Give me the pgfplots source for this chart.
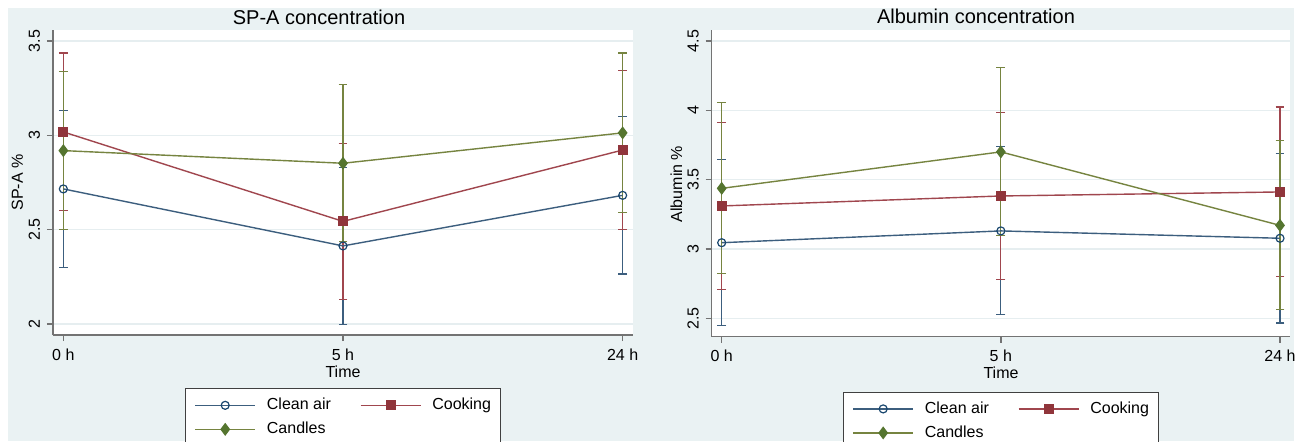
\documentclass[border=0pt]{standalone}
\usepackage{fontspec}
\setmainfont{Liberation Sans}
\usepackage{pgfplots}
\pgfplotsset{compat=1.18}
\usepackage{pgfplotstable}

\definecolor{bgc}{RGB}{234,242,243}
\definecolor{gridc}{RGB}{230,238,240}
\definecolor{mblue}{RGB}{26,71,111}
\definecolor{mred}{RGB}{144,53,59}
\definecolor{mgreen}{RGB}{85,117,47}
\definecolor{lblue}{RGB}{60,94,126}
\definecolor{lred}{RGB}{160,70,78}
\definecolor{lgreen}{RGB}{118,132,64}

% x = time index (0 h, 5 h, 24 h), y = mean, e = error half-width
\pgfplotstableread{
x y e
0 2.716 0.416
1 2.414 0.414
2 2.682 0.417
}\LClean
\pgfplotstableread{
x y e
0 3.018 0.418
1 2.544 0.415
2 2.922 0.420
}\LCook
\pgfplotstableread{
x y e
0 2.919 0.420
1 2.852 0.415
2 3.013 0.423
}\LCand
\pgfplotstableread{
x y e
0 3.045 0.600
1 3.130 0.606
2 3.077 0.611
}\RClean
\pgfplotstableread{
x y e
0 3.310 0.603
1 3.382 0.604
2 3.411 0.613
}\RCook
\pgfplotstableread{
x y e
0 3.437 0.616
1 3.700 0.606
2 3.170 0.610
}\RCand

\pgfplotsset{
  panel/.style={
    scale only axis,
    axis lines*=left,
    axis line style={-, draw=black!55, line width=0.7pt},
    axis background/.style={fill=white},
    xtick={0,1,2}, xticklabels={0 h,5 h,24 h},
    tick align=outside, major tick length=3pt,
    tick style={draw=black!55, line width=0.7pt},
    ymajorgrids, grid style={draw=gridc, line width=0.7pt},
    /pgf/number format/assume math mode=true,
    tick label style={font=\fontsize{8}{9.6}\selectfont},
    xticklabel style={anchor=north, inner sep=0pt, yshift=-3.5pt},
    yticklabel style={xshift=-3.5pt, rotate=90, anchor=base, inner sep=0pt},
    legend columns=2,
    legend cell align=left,
    legend image code/.code={\draw[mark repeat=2,mark phase=2,#1] plot coordinates {(0pt,0pt) (15pt,0pt) (30pt,0pt)};},
    legend style={draw=black!75, line width=0.5pt, fill=white,
      font=\fontsize{8}{9.6}\selectfont,
      inner xsep=4.5pt, inner ysep=4.5pt, row sep=4.5pt,
      nodes={inner sep=0pt, text height=6pt, text depth=1.5pt, anchor=west},
      /tikz/every odd column/.append style={column sep=5.5pt},
      /tikz/every even column/.append style={column sep=14.5pt}},
  },
  ebar/.style={draw=none, mark=none, forget plot,
    error bars/.cd, y dir=both, y explicit,
    error bar style={draw=#1, solid, line width=0.55pt},
    error mark options={draw=#1, rotate=90, mark size=2.2pt, line width=0.55pt}},
  sclean/.style={lblue, line width=0.7pt, mark=o, mark size=2pt, mark options={draw=mblue, fill=white, line width=0.6pt}},
  scook/.style={lred, line width=0.7pt, mark=square*, mark size=2.2pt, mark options={draw=mred, fill=mred}},
  scand/.style={lgreen, line width=0.7pt, mark=diamond*, mark size=2.7pt, mark options={draw=mgreen, fill=mgreen}},
}

\begin{document}
\begin{tikzpicture}
\path[use as bounding box] (0,0) rectangle (653pt,220.5pt);
\clip (0,0) rectangle (653pt,220.5pt);
\fill[white] (0,0) rectangle (653pt,220.5pt);
\fill[bgc] (4pt,0pt) rectangle (647pt,216.5pt);

% ---------- Left panel ----------
\begin{axis}[panel,
  at={(26.5pt,53pt)}, anchor=south west,
  width=290pt, height=152.5pt,
  xmin=-0.037, xmax=2.037,
  ymin=1.942, ymax=3.558,
  ytick={2,2.5,3,3.5},
  legend style={at={(0.2276,-0.1748)}, anchor=north west},
]
\addplot[ebar=lblue] table[x=x, y=y, y error=e] {\LClean};
\addplot[ebar=lred] table[x=x, y=y, y error=e] {\LCook};
\addplot[ebar=lgreen] table[x=x, y=y, y error=e] {\LCand};
\addplot[sclean] table[x=x, y=y] {\LClean};
\addplot[scook] table[x=x, y=y] {\LCook};
\addplot[scand] table[x=x, y=y] {\LCand};
\legend{Clean air, Cooking, Candles}
\end{axis}

% ---------- Right panel ----------
\begin{axis}[panel,
  at={(355.85pt,52.15pt)}, anchor=south west,
  width=289.15pt, height=153.35pt,
  xmin=-0.0358, xmax=2.0358,
  ymin=2.367, ymax=4.579,
  ytick={2.5,3,3.5,4,4.5},
  legend style={at={(0.227,-0.180)}, anchor=north west},
]
\addplot[ebar=lblue] table[x=x, y=y, y error=e] {\RClean};
\addplot[ebar=lred] table[x=x, y=y, y error=e] {\RCook};
\addplot[ebar=lgreen] table[x=x, y=y, y error=e] {\RCand};
\addplot[sclean] table[x=x, y=y] {\RClean};
\addplot[scook] table[x=x, y=y] {\RCook};
\addplot[scand] table[x=x, y=y] {\RCand};
\legend{Clean air, Cooking, Candles}
\end{axis}

% ---------- Titles and axis labels ----------
\node[anchor=base, inner sep=0pt, font=\fontsize{10}{12}\selectfont] at (159.5pt,208.5pt) {SP-A concentration};
\node[anchor=base, inner sep=0pt, font=\fontsize{10}{12}\selectfont] at (488pt,208.75pt) {Albumin concentration};
\node[anchor=base, inner sep=0pt, font=\fontsize{8}{9.6}\selectfont] at (171.5pt,32pt) {Time};
\node[anchor=base, inner sep=0pt, font=\fontsize{8}{9.6}\selectfont] at (500.5pt,31.5pt) {Time};
\node[anchor=base, inner sep=0pt, rotate=90, font=\fontsize{8}{9.6}\selectfont] at (11.5pt,129.25pt) {SP-A \%};
\node[anchor=base, inner sep=0pt, rotate=90, font=\fontsize{8}{9.6}\selectfont] at (341pt,128.5pt) {Albumin \%};
\end{tikzpicture}
\end{document}
